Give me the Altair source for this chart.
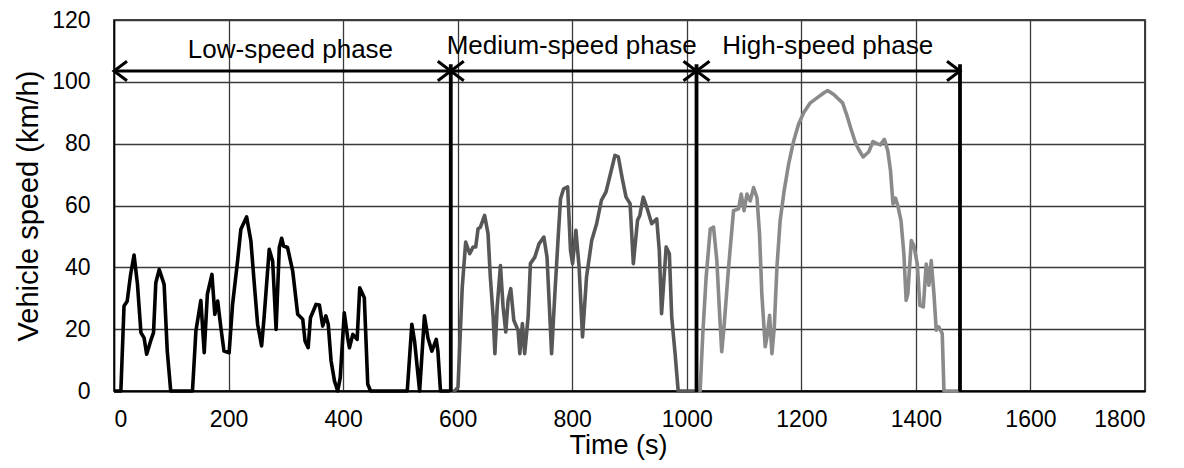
import altair as alt
import pandas as pd

FONT = "Liberation Sans"

# ---- speed traces (time in s, speed in km/h) ----
low_t = [0, 12, 17.5, 23, 29, 35, 41, 47, 52.5, 57, 64, 69, 73, 79, 87.5, 93, 99,
         137, 143, 151.6, 157.5, 163, 171, 176, 181, 186.6, 192, 201, 207, 215.7,
         221.5, 231.5, 239, 245, 250.7, 257.7, 262, 271, 277, 283, 288.6, 292.7,
         296, 303, 312, 320.7, 329.5, 333.5, 339, 343, 352.7, 358.6, 364.4, 370,
         374, 379, 385, 390.6, 395, 402, 408, 411, 417, 424.5, 429, 437, 443, 448,
         512, 520, 524.7, 533.6, 542, 548, 555, 562.6, 565.5, 570, 586]
low_v = [0, 0, 27.5, 29, 37.7, 44, 34.5, 18.9, 17.2, 11.9, 16.2, 18.9, 35, 39.3,
         34.5, 12.9, 0, 0, 19.4, 29.3, 12.4, 31.3, 37.7, 24.8, 29.1, 20.5, 12.9,
         12.4, 28, 42, 52.3, 56.3, 48.5, 34.5, 21.6, 14.6, 23.7, 45.8, 42, 19.9,
         46.4, 49.4, 46.9, 46.4, 38.8, 24.8, 23.2, 16.2, 14, 23.7, 28, 27.8, 21,
         24.3, 21.6, 9.7, 3.2, 0, 4.3, 25.3, 17.2, 14, 18.3, 16.7, 33.4, 30.2, 2.2,
         0, 0, 21.6, 16.2, 0, 24.3, 17.2, 12.9, 16.7, 12.9, 0, 0]

mid_t = [591, 595, 600.6, 608, 614, 621, 627, 631.5, 635.6, 639.7, 647, 653, 657,
         662, 665, 669, 674.7, 679.3, 684, 688, 692.7, 698, 705.5, 708.5, 713, 717,
         723, 727, 734.7, 742, 750.5, 756, 761, 764, 769.7, 775.5, 779.6, 785, 792,
         797, 800.6, 806.4, 812, 818, 825, 834, 842.6, 851, 859, 866, 874.6, 880.5,
         888, 894, 901, 906.7, 914, 918, 924, 930, 938.8, 947.5, 952, 956, 964,
         969.6, 973.7, 979.6, 985, 1014]
mid_v = [0, 0, 1.3, 33.6, 48.2, 44.4, 46.6, 46.6, 52.5, 53, 56.8, 50.9, 36.9, 23.9,
         12.1, 27.2, 40.6, 27.2, 19.1, 29.3, 33.1, 22.9, 19.6, 12.1, 21.8, 12.1,
         23.9, 41.2, 43.3, 47.6, 49.8, 43.3, 23.9, 12.1, 31.5, 49.8, 62.2, 65.4, 66,
         45.5, 41.2, 52, 40.1, 17.5, 36.9, 48.7, 54.1, 61.7, 64.4, 69.7, 76.2, 75.7,
         68.1, 62.7, 60.6, 41.2, 55.2, 56.8, 62.7, 59.5, 54.1, 55.7, 45.5, 25, 46.6,
         44.4, 23.9, 12.1, 0, 0]

high_t = [1020, 1023.3, 1028, 1033.8, 1041, 1046.7, 1052.5, 1057, 1061, 1065, 1073,
          1081.6, 1090.4, 1095, 1100, 1105, 1110.8, 1116.6, 1122.5, 1127, 1131,
          1137, 1141, 1144.6, 1148.7, 1152.8, 1157.4, 1163, 1170, 1177.8, 1186.6,
          1195, 1204, 1215.7, 1227.4, 1239, 1246, 1256.6, 1272, 1280, 1287, 1294.5,
          1300, 1308, 1317.8, 1325, 1332, 1338, 1345, 1351, 1355.7, 1360, 1364.4,
          1368.5, 1374, 1379, 1383, 1386, 1392, 1396.5, 1402.4, 1407, 1413, 1418,
          1422.7, 1426.8, 1431.5, 1435.5, 1440, 1446, 1449, 1475]
high_v = [0, 0, 18.6, 36.8, 52.4, 53, 42.2, 26.1, 12.7, 20.7, 40.1, 58.3, 58.9,
          63.7, 58.3, 63.7, 61.5, 65.8, 62.6, 50.8, 31.5, 14.3, 18.6, 24.5, 12.1,
          20.7, 40.1, 55.1, 64.8, 73.4, 80.9, 86.2, 90, 93.2, 94.8, 96.4, 97.2,
          95.9, 93.2, 88.9, 84.6, 80.3, 78.2, 75.7, 77.4, 80.7, 80, 79.6, 81.4,
          77.6, 71.2, 60.5, 62.4, 59.9, 55.1, 44.4, 29.3, 31.5, 48.7, 47, 41.1,
          27.7, 27.2, 41.1, 34.2, 42.2, 31.5, 19.7, 20.7, 18.6, 0, 0]

# ---- phases ----
phase_names = ["Low", "Medium", "High"]
phase_labels = ["Low-speed phase", "Medium-speed phase", "High-speed phase"]
phase_start = [0, 588, 1017]
phase_end = [588, 1017, 1477]
line_colors = ["#000000", "#575757", "#8a8a8a"]
label_t = [308, 799, 1246]
label_v = [107.6, 109.0, 108.9]
arrow_v = 103.5
divider_top = 105.7

x_ticks = [0, 200, 400, 600, 800, 1000, 1200, 1400, 1600, 1800]
y_ticks = [0, 20, 40, 60, 80, 100, 120]

rows = []
for name, ts, vs in [("Low", low_t, low_v), ("Medium", mid_t, mid_v), ("High", high_t, high_v)]:
    for t, v in zip(ts, vs):
        rows.append({"t": t, "v": v, "phase": name})
df = pd.DataFrame(rows)

ph = pd.DataFrame({
    "name": phase_names, "label": phase_labels,
    "start": phase_start, "end": phase_end,
    "lt": label_t, "lv": label_v,
    "av": [arrow_v] * 3, "y0": [0] * 3, "top": [divider_top] * 3,
})

x_scale = alt.Scale(domain=[0, 1800], nice=False, zero=False)
y_scale = alt.Scale(domain=[0, 120], nice=False)

x_axis = alt.Axis(values=x_ticks, title="Time (s)", format="d",
                  labelFont=FONT, titleFont=FONT, labelFontSize=23, titleFontSize=27,
                  labelColor="#000", titleColor="#000", titleFontWeight="normal",
                  ticks=False, tickSize=0, labelPadding=17,
                  grid=True, gridColor="#3a3a3a", gridWidth=1.3,
                  domainColor="#000", domainWidth=2,
                  titleX=504, titleY=62, titleAlign="center", titleBaseline="alphabetic")
y_axis = alt.Axis(values=y_ticks, title="Vehicle speed (km/h)", format="d",
                  labelFont=FONT, titleFont=FONT, labelFontSize=23, titleFontSize=29,
                  labelColor="#000", titleColor="#000", titleFontWeight="normal",
                  ticks=False, tickSize=0, labelPadding=24,
                  grid=True, gridColor="#3a3a3a", gridWidth=1.3,
                  domainColor="#000", domainWidth=1.5,
                  titleX=-86, titleY=185.5, titleAngle=270, titleAlign="center",
                  titleBaseline="middle")

lines = alt.Chart(df).mark_line(strokeWidth=3.6, strokeJoin="round").encode(
    x=alt.X("t:Q", scale=x_scale, axis=x_axis),
    y=alt.Y("v:Q", scale=y_scale, axis=y_axis),
    color=alt.Color("phase:N", scale=alt.Scale(domain=phase_names, range=line_colors), legend=None),
    detail="phase:N",
)

base = alt.Chart(ph)

dividers = base.mark_rule(color="#000", strokeWidth=3.8).encode(
    x=alt.X("end:Q", scale=x_scale, axis=x_axis),
    y=alt.Y("y0:Q", scale=y_scale, axis=y_axis),
    y2="top:Q",
)

arrows = base.mark_rule(color="#000", strokeWidth=3).encode(
    x=alt.X("start:Q", scale=x_scale, axis=x_axis),
    x2="end:Q",
    y=alt.Y("av:Q", scale=y_scale, axis=y_axis),
)

left_heads = base.mark_point(shape="M1,-0.75L0,0L1,0.75", size=676, filled=False,
                             strokeWidth=3, color="#000", opacity=1).encode(
    x=alt.X("start:Q", scale=x_scale, axis=x_axis),
    y=alt.Y("av:Q", scale=y_scale, axis=y_axis),
)
right_heads = base.mark_point(shape="M-1,-0.75L0,0L-1,0.75", size=676, filled=False,
                              strokeWidth=3, color="#000", opacity=1).encode(
    x=alt.X("end:Q", scale=x_scale, axis=x_axis),
    y=alt.Y("av:Q", scale=y_scale, axis=y_axis),
)

labels = base.mark_text(font=FONT, fontSize=26, color="#000", align="center",
                        baseline="alphabetic").encode(
    x=alt.X("lt:Q", scale=x_scale, axis=x_axis),
    y=alt.Y("lv:Q", scale=y_scale, axis=y_axis),
    text="label:N",
)

chart = alt.layer(lines, dividers, arrows, left_heads, right_heads, labels).properties(
    width=1031, height=371,
    autosize=alt.AutoSizeParams(type="none"),
    padding={"left": 106, "top": 12, "right": 30, "bottom": 69},
    background="white",
).configure_view(stroke="#000", strokeWidth=1.5)

chart.save("out.html", embed_options={"renderer": "svg", "actions": False})
